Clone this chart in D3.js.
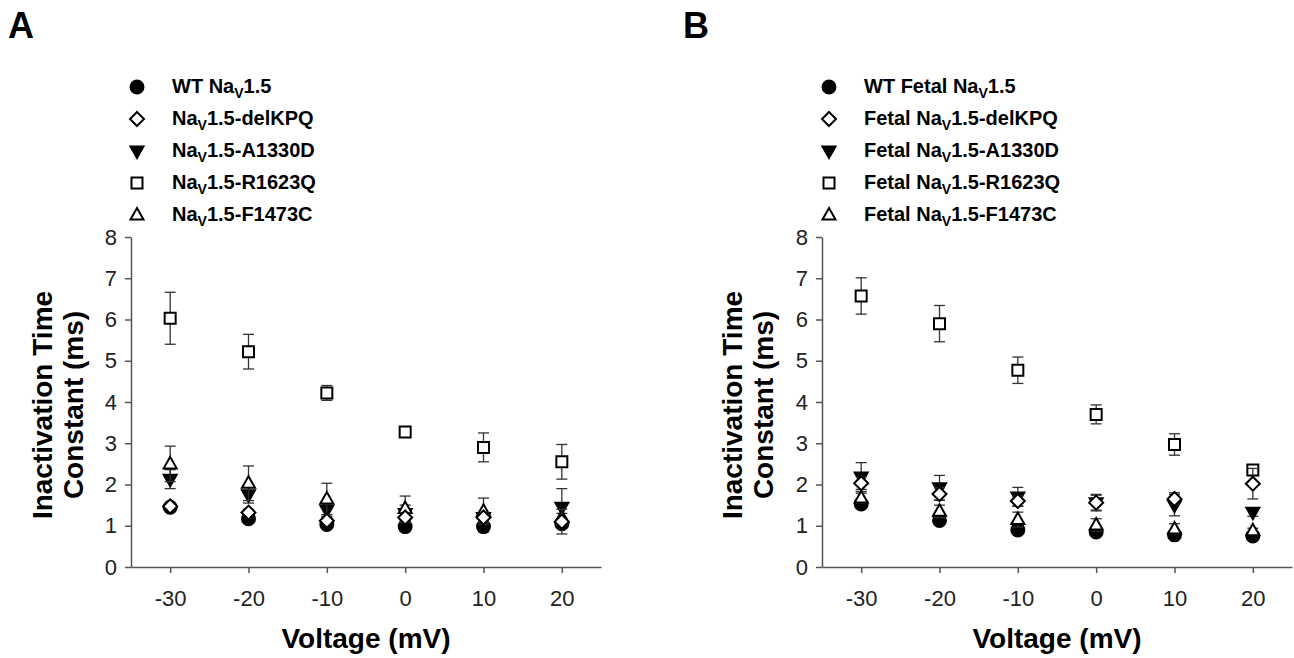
<!DOCTYPE html>
<html>
<head>
<meta charset="utf-8">
<title>Inactivation time constant</title>
<script src="https://d3js.org/d3.v7.min.js"></script>
<style>
  body { margin: 0; background: #fff; }
  svg { font-family: "Liberation Sans", Arial, sans-serif; }
</style>
</head>
<body>
<script>
// voltages (mV)
var voltages = [-30, -20, -10, 0, 10, 20];
var yTicks = [0, 1, 2, 3, 4, 5, 6, 7, 8];
var xTicks = [-30, -20, -10, 0, 10, 20];

// panel A: adult channels, mean and error
var seriesNamesA = [["WT Na", "1.5"], ["Na", "1.5-delKPQ"], ["Na", "1.5-A1330D"], ["Na", "1.5-R1623Q"], ["Na", "1.5-F1473C"]];
var wtA      = [1.45, 1.17, 1.03, 0.98, 0.98, 1.05];
var wtErrA   = [0.05, 0.06, 0.05, 0.05, 0.13, 0.08];
var delA     = [1.47, 1.32, 1.12, 1.2, 1.2, 1.1];
var delErrA  = [0.06, 0.08, 0.08, 0.12, 0.1, 0.3];
var a13A     = [2.13, 1.75, 1.38, 1.3, 1.2, 1.45];
var a13ErrA  = [0.23, 0.2, 0.15, 0.2, 0.12, 0.45];
var r16A     = [6.03, 5.22, 4.22, 3.27, 2.9, 2.55];
var r16ErrA  = [0.63, 0.42, 0.18, 0.08, 0.35, 0.42];
var f14A     = [2.5, 2.03, 1.65, 1.42, 1.35, 1.2];
var f14ErrA  = [0.43, 0.42, 0.38, 0.3, 0.32, 0.1];

// panel B: fetal channels
var seriesNamesB = [["WT Fetal Na", "1.5"], ["Fetal Na", "1.5-delKPQ"], ["Fetal Na", "1.5-A1330D"], ["Fetal Na", "1.5-R1623Q"], ["Fetal Na", "1.5-F1473C"]];
var wtB      = [1.53, 1.13, 0.9, 0.85, 0.78, 0.75];
var wtErrB   = [0.08, 0.06, 0.05, 0.05, 0.05, 0.05];
var delB     = [2.03, 1.77, 1.6, 1.56, 1.65, 2.02];
var delErrB  = [0.15, 0.15, 0.12, 0.18, 0.15, 0.37];
var a13B     = [2.18, 1.92, 1.7, 1.56, 1.5, 1.33];
var a13ErrB  = [0.35, 0.3, 0.23, 0.2, 0.26, 0.1];
var r16B     = [6.57, 5.9, 4.77, 3.7, 2.97, 2.35];
var r16ErrB  = [0.44, 0.44, 0.32, 0.23, 0.26, 0.1];
var f14B     = [1.67, 1.35, 1.15, 1.02, 0.92, 0.88];
var f14ErrB  = [0.12, 0.15, 0.18, 0.15, 0.13, 0.06];

var shapes = ["circle", "diamond", "down", "square", "up"];
// diamonds end up on top of the other markers
var drawOrder = [0, 2, 4, 3, 1];

var svg = d3.select("body").append("svg")
    .attr("width", 1294).attr("height", 658);

function shapePath(s) {
  var p = d3.path();
  if (s == "circle") { p.arc(0, 0, 6.5, 0, 2 * Math.PI); }
  if (s == "diamond") { p.moveTo(0, -7); p.lineTo(7, 0); p.lineTo(0, 7); p.lineTo(-7, 0); p.closePath(); }
  if (s == "square") { p.rect(-5.5, -5.5, 11, 11); }
  if (s == "up") { p.moveTo(0, -7); p.lineTo(6.5, 4.5); p.lineTo(-6.5, 4.5); p.closePath(); }
  if (s == "down") { p.moveTo(0, 7); p.lineTo(6.5, -4.5); p.lineTo(-6.5, -4.5); p.closePath(); }
  return p.toString();
}
function filled(s) { return s == "circle" || s == "down"; }

function panel(opt) {
  var x = d3.scaleLinear().domain([-35, 25]).range([opt.x0, opt.x0 + 470]);
  var y = d3.scaleLinear().domain([0, 8]).range([567, 237]);
  var g = svg.append("g");

  // panel letter
  g.append("text").attr("x", opt.letterX).attr("y", 38)
    .attr("font-size", 36).attr("font-weight", "bold").text(opt.letter);

  // axes
  var ya = g.append("g").attr("transform", "translate(" + opt.x0 + ",0)")
    .call(d3.axisLeft(y).tickValues(yTicks).tickSize(6).tickSizeOuter(0).tickPadding(8));
  var xa = g.append("g").attr("transform", "translate(0,567)")
    .call(d3.axisBottom(x).tickValues(xTicks).tickFormat(function(d) { return String(d); })
      .tickSize(6).tickSizeOuter(0).tickPadding(17));
  [ya, xa].forEach(function(a) {
    a.select(".domain").attr("stroke", "#555").attr("stroke-width", 1.5);
    a.selectAll(".tick line").attr("stroke", "#555").attr("stroke-width", 1.5);
    a.selectAll(".tick text").attr("font-size", 22).attr("fill", "#222")
      .attr("font-family", "Liberation Sans, Arial, sans-serif");
  });
  xa.selectAll(".tick text").attr("dy", "0.71em");

  // axis titles
  g.append("text").attr("x", x(-5)).attr("y", 648).attr("text-anchor", "middle")
    .attr("font-size", 28).attr("font-weight", "bold").text("Voltage (mV)");
  var yt = g.append("text").attr("transform", "translate(" + opt.ytX + ",405) rotate(-90)")
    .attr("text-anchor", "middle").attr("font-size", 28).attr("font-weight", "bold");
  yt.append("tspan").attr("x", 0).attr("dy", 0).text("Inactivation Time");
  yt.append("tspan").attr("x", 0).attr("dy", 31).text("Constant (ms)");

  // error bars then markers for each series
  drawOrder.forEach(function(i) {
    var se = opt.series[i];
    var rows = voltages.map(function(v, j) { return { v: v, m: se.mean[j], e: se.err[j] }; });
    var eb = g.append("g").attr("stroke", "#333").attr("stroke-width", 1.3);
    eb.selectAll("line.v").data(rows).enter().append("line")
      .attr("x1", function(d) { return x(d.v); }).attr("x2", function(d) { return x(d.v); })
      .attr("y1", function(d) { return y(d.m - d.e); }).attr("y2", function(d) { return y(d.m + d.e); });
    [-1, 1].forEach(function(sg) {
      eb.selectAll("line.c" + sg).data(rows).enter().append("line")
        .attr("x1", function(d) { return x(d.v) - 5.5; }).attr("x2", function(d) { return x(d.v) + 5.5; })
        .attr("y1", function(d) { return y(d.m + sg * d.e); }).attr("y2", function(d) { return y(d.m + sg * d.e); });
    });
    g.selectAll("path.s" + i).data(rows).enter().append("path")
      .attr("d", shapePath(shapes[i]))
      .attr("transform", function(d) { return "translate(" + x(d.v) + "," + y(d.m) + ")"; })
      .attr("fill", filled(shapes[i]) ? "#000" : "#fff")
      .attr("stroke", "#000").attr("stroke-width", 2);
  });

  // legend
  var lg = g.append("g");
  opt.names.forEach(function(n, i) {
    var ly = 87 + i * 32;
    lg.append("path").attr("d", shapePath(shapes[i]))
      .attr("transform", "translate(" + opt.legX + "," + ly + ")")
      .attr("fill", filled(shapes[i]) ? "#000" : "#fff")
      .attr("stroke", "#000").attr("stroke-width", 2);
    var t = lg.append("text").attr("x", opt.legX + 35).attr("y", ly + 6)
      .attr("font-size", 20).attr("font-weight", "bold");
    t.append("tspan").text(n[0]);
    t.append("tspan").attr("dy", 5).attr("font-size", 14).text("V");
    t.append("tspan").attr("dy", -5).text(n[1]);
  });
}

panel({
  letter: "A", letterX: 8, x0: 131, ytX: 52, legX: 137,
  names: seriesNamesA,
  series: [
    { mean: wtA, err: wtErrA }, { mean: delA, err: delErrA }, { mean: a13A, err: a13ErrA },
    { mean: r16A, err: r16ErrA }, { mean: f14A, err: f14ErrA }
  ]
});
panel({
  letter: "B", letterX: 683, x0: 822, ytX: 742, legX: 829,
  names: seriesNamesB,
  series: [
    { mean: wtB, err: wtErrB }, { mean: delB, err: delErrB }, { mean: a13B, err: a13ErrB },
    { mean: r16B, err: r16ErrB }, { mean: f14B, err: f14ErrB }
  ]
});
</script>
</body>
</html>
